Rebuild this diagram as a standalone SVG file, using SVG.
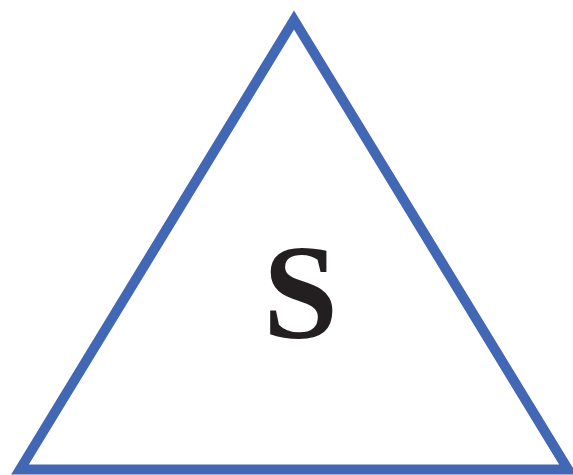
<svg xmlns="http://www.w3.org/2000/svg" width="573" height="475" viewBox="0 0 573 475">
<style>
.tri{fill:none;stroke:#4267b4;stroke-width:10;stroke-linejoin:miter}
.lbl{font-family:"Liberation Serif","Times New Roman",serif;font-weight:bold;font-size:135px;fill:#231f20;text-anchor:middle}
</style>
<rect width="573" height="475" fill="#ffffff"/>
<g id="node-triangle">
<polygon class="tri" points="294,20 568,469.5 20,469.5"/>
<text class="lbl" x="300.5" y="338">S</text>
</g>
</svg>
